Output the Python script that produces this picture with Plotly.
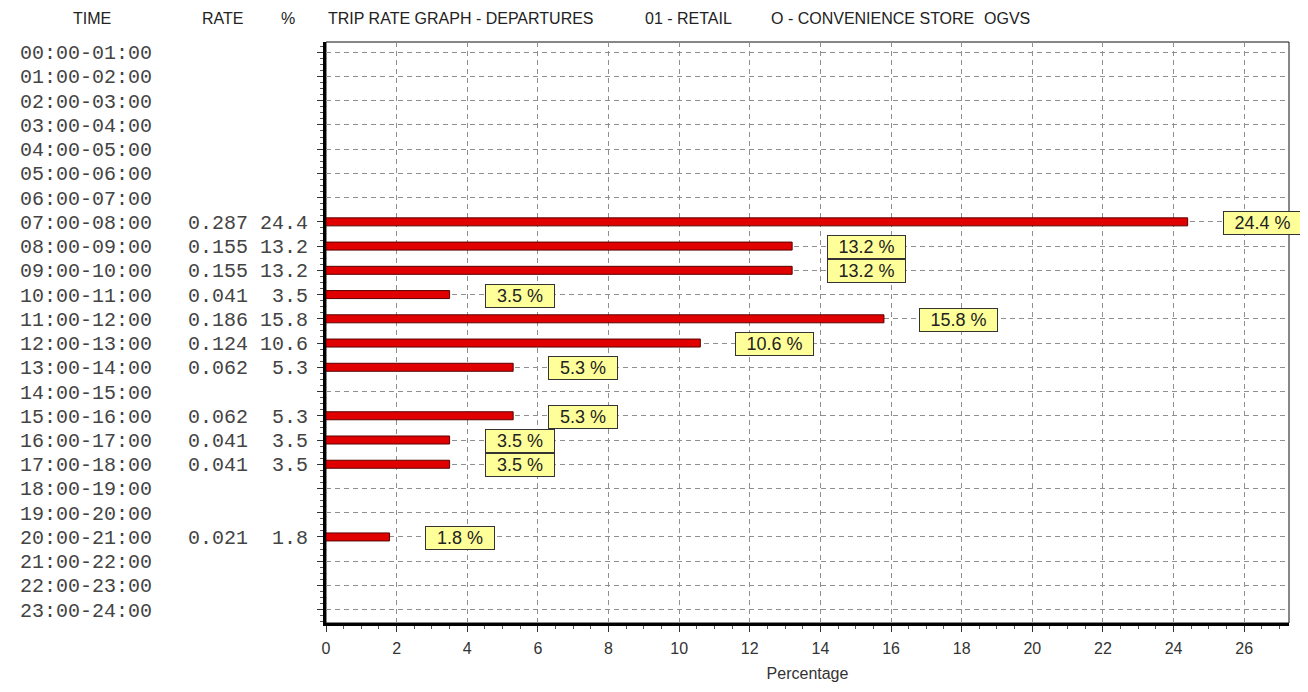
import plotly.graph_objects as go

# ---------------- data ----------------
time_labels = [f"{h:02d}:00-{h+1:02d}:00" for h in range(24)]
rates = [None, None, None, None, None, None, None,
         0.287, 0.155, 0.155, 0.041, 0.186, 0.124, 0.062,
         None, 0.062, 0.041, 0.041, None, None, 0.021,
         None, None, None]
percents = [None, None, None, None, None, None, None,
            24.4, 13.2, 13.2, 3.5, 15.8, 10.6, 5.3,
            None, 5.3, 3.5, 3.5, None, None, 1.8,
            None, None, None]
x_ticks = list(range(0, 27, 2))

col_headers = ["TIME", "RATE", "%"]
header_parts = ["TRIP RATE GRAPH - DEPARTURES", "01 - RETAIL", "O - CONVENIENCE STORE", "OGVS"]

# ---------------- geometry / style ----------------
OFF = 8  # page body margin of the html page
W, H = 1300, 684
ML, MR, MT, MB = 310, 19, 34, 64
PW = W - ML - MR
PH = H - MT - MB
NB = "\u00a0"
RED = "#e00000"
YELLOW = "#ffff99"

def px_to_paper_x(px):
    return (px - OFF - ML) / PW

def px_to_paper_y(py):
    return 1 - (py - OFF - MT) / PH

rows = list(range(len(time_labels)))

ticktext = []
for t, r, p in zip(time_labels, rates, percents):
    if r is None:
        ticktext.append(t + NB * 13)
    else:
        ticktext.append(t + NB * 3 + f"{r:.3f}" + NB + f"{p:4.1f}".replace(" ", NB))

bx = [p for p in percents if p is not None]
by = [i for i, p in zip(rows, percents) if p is not None]

fig = go.Figure()
fig.add_trace(go.Bar(
    x=bx, y=by, orientation="h", width=0.33,
    marker=dict(color=RED, line=dict(color="#5a0000", width=1)),
    hoverinfo="skip", showlegend=False,
))

shapes = []
annotations = []
for row, p in zip(by, bx):
    txt = f"{p:.1f} %"
    w = 68 if p < 10 else 77
    annotations.append(dict(xref="x", yref="y", x=p, y=row,
                            xanchor="left", yanchor="middle",
                            xshift=35, yshift=-1,
                            width=w, height=22, align="center",
                            bgcolor=YELLOW, bordercolor="#333333", borderwidth=1, borderpad=0,
                            text=txt, showarrow=False,
                            font=dict(family="Liberation Sans, Arial, sans-serif",
                                      size=18, color="#222222")))

# thin top/right frame
shapes.append(dict(type="rect", xref="paper", yref="paper", x0=0, x1=1, y0=0, y1=1,
                   line=dict(color="#111111", width=1), layer="below"))

hdr_font = dict(family="Liberation Sans, Arial, sans-serif", size=16, color="#222222")
hdr_y = px_to_paper_y(18)
for txt, cx in zip(col_headers, [82, 214, 280]):
    annotations.append(dict(xref="paper", yref="paper", x=px_to_paper_x(cx), y=hdr_y,
                            text=txt, showarrow=False, xanchor="center", yanchor="middle",
                            font=hdr_font))
for txt, lx in zip(header_parts, [318, 638, 765, 979]):
    annotations.append(dict(xref="paper", yref="paper", x=px_to_paper_x(lx), y=hdr_y,
                            text=txt, showarrow=False, xanchor="left", yanchor="middle",
                            font=hdr_font))

grid_dash = "5px,4px"
fig.update_layout(
    width=W, height=H,
    margin=dict(l=ML, r=MR, t=MT, b=MB, pad=0),
    paper_bgcolor="white", plot_bgcolor="white",
    shapes=shapes, annotations=annotations,
    xaxis=dict(
        range=[0, 27.27], tickvals=x_ticks, ticktext=[str(v) for v in x_ticks],
        showgrid=True, gridcolor="#8f8f8f", griddash=grid_dash, gridwidth=1,
        showline=True, linecolor="#000000", linewidth=3,
        ticks="outside", ticklen=6, tickcolor="#333333", tickwidth=1,
        minor=dict(dtick=0.5, ticks="outside", ticklen=3, tickcolor="#555555", showgrid=False),
        zeroline=False, ticklabelstandoff=3,
        tickfont=dict(family="Liberation Sans, Arial, sans-serif", size=16, color="#333333"),
        title=dict(text="Percentage", standoff=12,
                   font=dict(family="Liberation Sans, Arial, sans-serif", size=16, color="#333333")),
    ),
    yaxis=dict(
        range=[23.55, -0.42], tickvals=rows, ticktext=ticktext,
        showgrid=True, gridcolor="#8f8f8f", griddash=grid_dash, gridwidth=1,
        showline=True, linecolor="#000000", linewidth=3,
        ticks="outside", ticklen=6, tickcolor="#333333", tickwidth=1,
        minor=dict(dtick=0.25, ticks="outside", ticklen=3, tickcolor="#555555", showgrid=False),
        zeroline=False, ticklabelstandoff=5,
        tickfont=dict(family="Liberation Mono, DejaVu Sans Mono, monospace", size=20, color="#444444"),
    ),
)

fig.write_html("out.html")
